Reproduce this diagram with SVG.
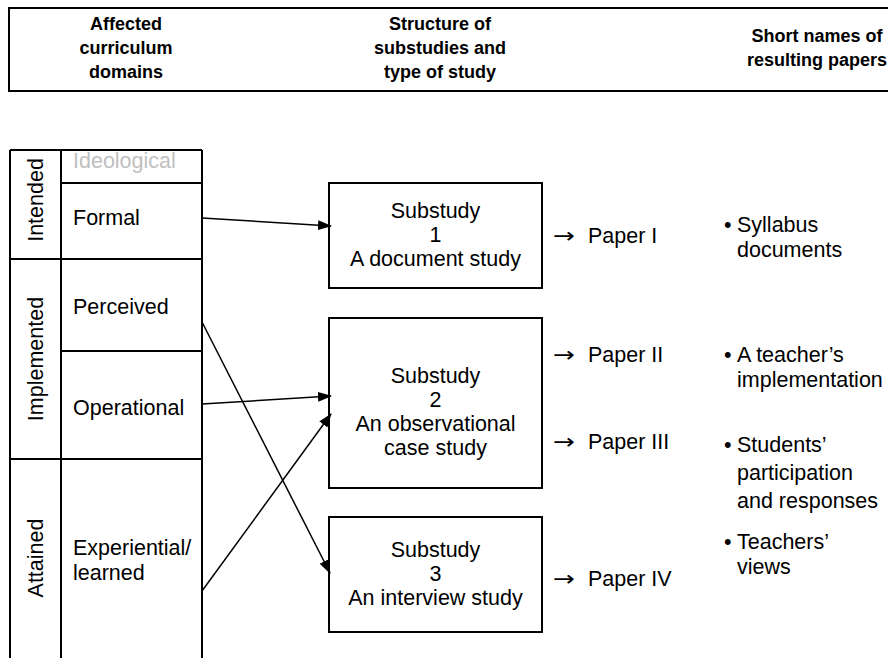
<svg xmlns="http://www.w3.org/2000/svg" width="888" height="658" viewBox="0 0 888 658">
<defs>
<marker id="ah" markerUnits="userSpaceOnUse" markerWidth="14" markerHeight="10" refX="13" refY="5" orient="auto">
<path d="M0,0 L14,5 L0,10 Z" fill="#000"/>
</marker>
<style>
text{font-family:"Liberation Sans",Arial,sans-serif;fill:#000}
.h{font-size:18px;font-weight:bold;text-anchor:middle}
.b{font-size:21.5px}
.c{font-size:21.5px;text-anchor:middle}
.g{fill:#c0c0c0}
.ar{font-family:"DejaVu Sans",sans-serif;font-size:21px}
.ln{stroke:#000;stroke-width:2;fill:none}
.box{stroke:#000;stroke-width:2;fill:#fff}
.con{stroke:#000;stroke-width:1.5;fill:none;marker-end:url(#ah)}
</style>
</defs>
<rect width="888" height="658" fill="#fff"/>
<g id="header">
<path class="ln" d="M9,8 H888 M9,91 H888 M9,7 V92"/>
<text class="h" x="126" y="30">Affected</text>
<text class="h" x="126" y="54">curriculum</text>
<text class="h" x="126" y="78">domains</text>
<text class="h" x="440" y="30">Structure of</text>
<text class="h" x="440" y="54">substudies and</text>
<text class="h" x="440" y="78">type of study</text>
<text class="h" x="817" y="42">Short names of</text>
<text class="h" x="817" y="66">resulting papers</text>
</g>
<g id="domains-table">
<path class="ln" d="M10,150 V658 M61,150 V658 M202,150 V658 M10,150 H202 M61,183 H202 M10,259 H202 M61,351 H202 M10,459 H202"/>
</g>
<g id="intended"><text class="c" transform="translate(43,200) rotate(-90)">Intended</text></g>
<g id="implemented"><text class="c" transform="translate(43,359) rotate(-90)">Implemented</text></g>
<g id="attained"><text class="c" transform="translate(43,558) rotate(-90)">Attained</text></g>
<g id="ideological"><text class="b g" x="73" y="168">Ideological</text></g>
<g id="formal"><text class="b" x="73" y="225">Formal</text></g>
<g id="perceived"><text class="b" x="73" y="314">Perceived</text></g>
<g id="operational"><text class="b" x="73" y="415">Operational</text></g>
<g id="experiential"><text class="b" x="73" y="555">Experiential/</text><text class="b" x="73" y="580">learned</text></g>
<g id="substudy1">
<rect class="box" x="329" y="183" width="213" height="105"/>
<text class="c" x="435.5" y="218">Substudy</text>
<text class="c" x="435.5" y="242">1</text>
<text class="c" x="435.5" y="266">A document study</text>
</g>
<g id="substudy2">
<rect class="box" x="329" y="318" width="213" height="170"/>
<text class="c" x="435.5" y="383">Substudy</text>
<text class="c" x="435.5" y="407">2</text>
<text class="c" x="435.5" y="431">An observational</text>
<text class="c" x="435.5" y="455">case study</text>
</g>
<g id="substudy3">
<rect class="box" x="329" y="517" width="213" height="115"/>
<text class="c" x="435.5" y="557">Substudy</text>
<text class="c" x="435.5" y="581">3</text>
<text class="c" x="435.5" y="605">An interview study</text>
</g>
<g id="connectors">
<line class="con" x1="202" y1="218" x2="331" y2="226"/>
<line class="con" x1="202" y1="404" x2="331" y2="396"/>
<line class="con" x1="202" y1="591" x2="331" y2="414"/>
<line class="con" x1="202" y1="322" x2="330" y2="573"/>
</g>
<g id="paper1"><text class="ar" x="553" y="243" textLength="22" lengthAdjust="spacingAndGlyphs">→</text><text class="b" x="588" y="243">Paper I</text></g>
<g id="paper2"><text class="ar" x="553" y="362" textLength="22" lengthAdjust="spacingAndGlyphs">→</text><text class="b" x="588" y="362">Paper II</text></g>
<g id="paper3"><text class="ar" x="553" y="449" textLength="22" lengthAdjust="spacingAndGlyphs">→</text><text class="b" x="588" y="449">Paper III</text></g>
<g id="paper4"><text class="ar" x="553" y="586" textLength="22" lengthAdjust="spacingAndGlyphs">→</text><text class="b" x="588" y="586">Paper IV</text></g>
<g id="name1"><text class="b" x="724" y="232">•</text><text class="b" x="737" y="232">Syllabus</text><text class="b" x="737" y="257">documents</text></g>
<g id="name2"><text class="b" x="724" y="362">•</text><text class="b" x="737" y="362">A teacher’s</text><text class="b" x="737" y="387">implementation</text></g>
<g id="name3"><text class="b" x="724" y="452">•</text><text class="b" x="737" y="452">Students’</text><text class="b" x="737" y="480">participation</text><text class="b" x="737" y="508">and responses</text></g>
<g id="name4"><text class="b" x="724" y="549">•</text><text class="b" x="737" y="549">Teachers’</text><text class="b" x="737" y="574">views</text></g>
</svg>
